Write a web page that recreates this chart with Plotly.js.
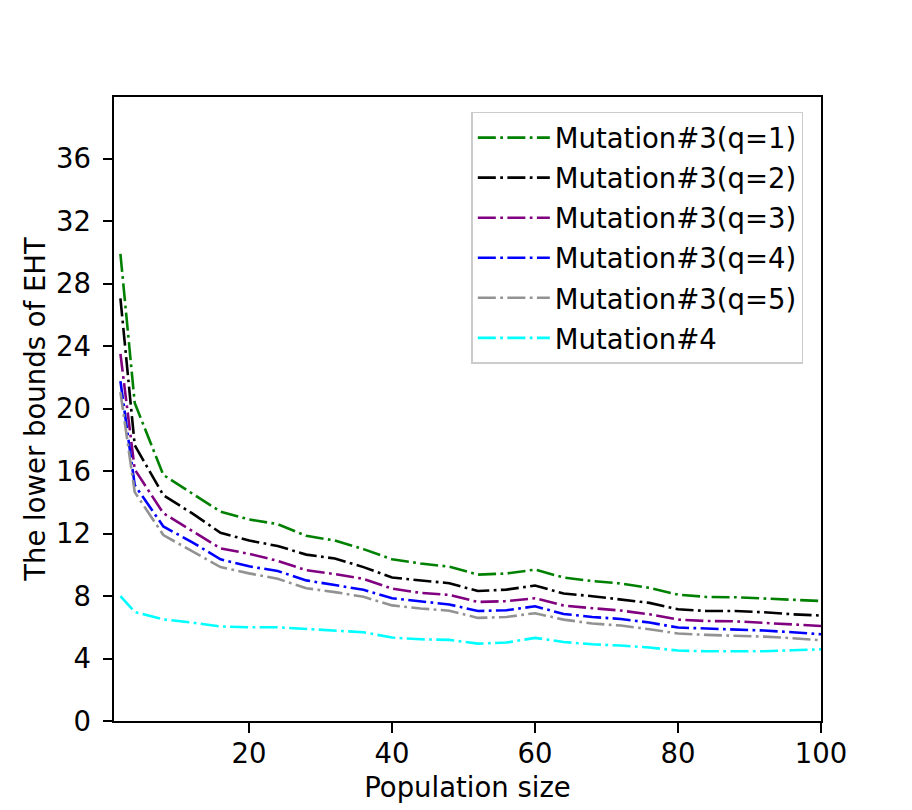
<!DOCTYPE html>
<html>
<head>
<meta charset="utf-8">
<script src="https://cdn.plot.ly/plotly-3.0.1.min.js"></script>
<style>html,body{margin:0;padding:0;background:#fff;}#chart{width:912px;height:810px;}</style>
</head>
<body>
<div id="chart"></div>
<script>
const popSize = [2, 4, 8, 12, 16, 20, 24, 28, 32, 36, 40, 44, 48, 52, 56, 60, 64, 68, 72, 76, 80, 84, 88, 92, 96, 100];

const mut3q1 = [29.9, 20.35, 15.75, 14.55, 13.4, 12.9, 12.6, 11.85, 11.55, 11.0, 10.35, 10.08, 9.88, 9.37, 9.44, 9.69, 9.18, 8.96, 8.80, 8.52, 8.09, 7.94, 7.92, 7.84, 7.75, 7.68];
const mut3q2 = [27.05, 17.65, 14.45, 13.3, 12.05, 11.55, 11.2, 10.65, 10.4, 9.85, 9.18, 9.0, 8.82, 8.32, 8.41, 8.67, 8.16, 7.99, 7.77, 7.56, 7.15, 7.04, 7.04, 6.96, 6.83, 6.75];
const mut3q3 = [23.5, 16.1, 13.3, 12.2, 11.05, 10.7, 10.25, 9.65, 9.4, 9.1, 8.47, 8.2, 8.07, 7.62, 7.67, 7.86, 7.39, 7.22, 7.07, 6.83, 6.49, 6.40, 6.38, 6.28, 6.19, 6.08];
const mut3q4 = [21.75, 15.1, 12.45, 11.45, 10.35, 9.9, 9.6, 9.0, 8.7, 8.4, 7.86, 7.65, 7.46, 7.04, 7.09, 7.34, 6.85, 6.66, 6.53, 6.30, 5.98, 5.92, 5.87, 5.79, 5.68, 5.55];
const mut3q5 = [21.05, 14.65, 11.9, 10.9, 9.85, 9.45, 9.1, 8.5, 8.25, 7.95, 7.4, 7.2, 7.06, 6.60, 6.66, 6.90, 6.49, 6.24, 6.11, 5.87, 5.60, 5.51, 5.47, 5.40, 5.30, 5.17];
const mut4 = [8.0, 6.98, 6.5, 6.3, 6.05, 6.0, 6.0, 5.9, 5.8, 5.68, 5.34, 5.23, 5.19, 4.95, 5.02, 5.32, 5.06, 4.91, 4.83, 4.70, 4.51, 4.46, 4.46, 4.46, 4.53, 4.59];

const seriesNames = ["Mutation#3(q=1)", "Mutation#3(q=2)", "Mutation#3(q=3)", "Mutation#3(q=4)", "Mutation#3(q=5)", "Mutation#4"];
const seriesData = [mut3q1, mut3q2, mut3q3, mut3q4, mut3q5, mut4];
const seriesColors = ["#008000", "#000000", "#800080", "#0000ff", "#929292", "#00ffff"];

const xTicks = [20, 40, 60, 80, 100];
const yTicks = [0, 4, 8, 12, 16, 20, 24, 28, 32, 36];

const FONT = "DejaVu Sans, sans-serif";

const traces = seriesNames.map((name, i) => ({
  x: popSize,
  y: seriesData[i],
  type: "scatter",
  mode: "lines",
  name: name,
  legendgroup: "g" + i,
  line: { color: seriesColors[i], width: 2.6, dash: "18px,4.4px,2.75px,4.4px" }
}));

const axisCommon = {
  showline: true,
  mirror: true,
  linecolor: "#000",
  linewidth: 2,
  ticks: "outside",
  ticklen: 9.5,
  tickwidth: 2,
  tickcolor: "#000",
  showgrid: false,
  zeroline: false,
  tickfont: { family: FONT, size: 27.5, color: "#000" }
};

const layout = {
  width: 912,
  height: 810,
  paper_bgcolor: "#fff",
  plot_bgcolor: "#fff",
  margin: { l: 114.3, r: 91, t: 97, b: 89.3, pad: 0 },
  font: { family: FONT, size: 27.5, color: "#000" },
  xaxis: Object.assign({}, axisCommon, {
    range: [1.1, 100.0001],
    tickmode: "array",
    tickvals: xTicks,
    ticktext: xTicks.map(String),
    ticklabelstandoff: -3,
    title: { text: "Population size", font: { family: FONT, size: 27.5, color: "#000" }, standoff: 10 }
  }),
  yaxis: Object.assign({}, axisCommon, {
    range: [0, 39.94],
    tickmode: "array",
    tickvals: yTicks,
    ticktext: yTicks.map(String),
    ticklabelstandoff: 6,
    title: { text: "The lower bounds of EHT", font: { family: FONT, size: 27.5, color: "#000" }, standoff: 2 }
  }),
  showlegend: true,
  legend: {
    x: 0.975,
    y: 0.9764,
    xanchor: "right",
    yanchor: "top",
    bgcolor: "rgba(255,255,255,0.8)",
    bordercolor: "#cccccc",
    borderwidth: 1.5,
    font: { family: FONT, size: 27.5, color: "#000" },
    tracegroupgap: 1.3,
    itemwidth: 72
  }
};

Plotly.newPlot("chart", traces, layout, { displayModeBar: false, staticPlot: true });
</script>
</body>
</html>
